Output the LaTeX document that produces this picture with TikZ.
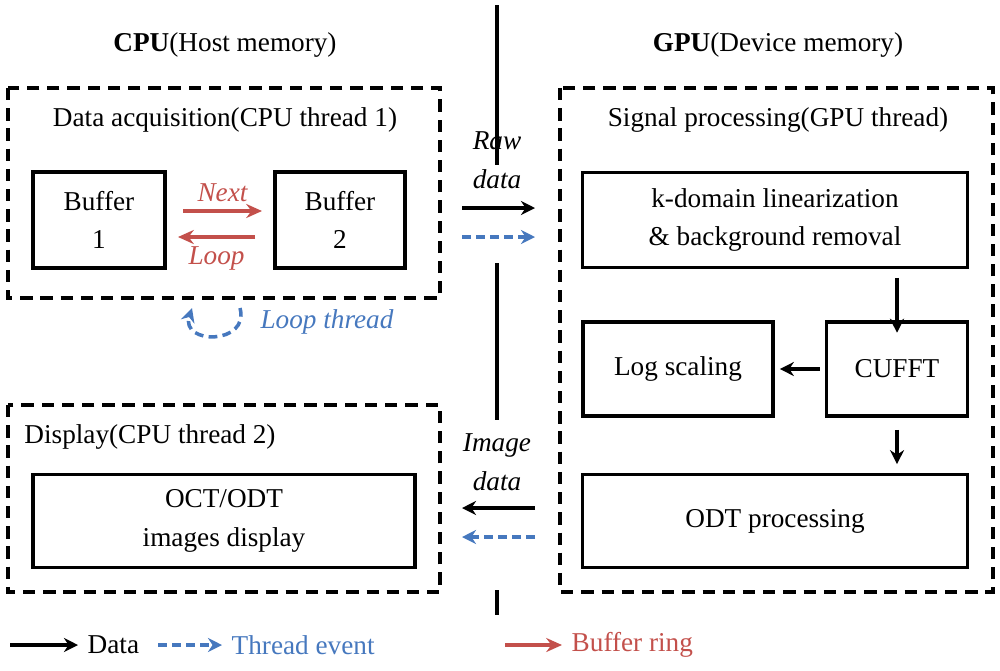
\documentclass[tikz,border=0pt]{standalone}
\usepackage{fontspec}
\setmainfont{Liberation Serif}
\usetikzlibrary{positioning,arrows.meta}
\definecolor{evblue}{RGB}{70,120,190}
\definecolor{ringred}{RGB}{195,80,75}
\tikzset{
  box/.style={draw, line width=1.8pt, align=center, inner sep=0pt},
  group/.style={draw, line width=1.8pt, dash pattern=on 7pt off 4.5pt},
  data/.style={-{Stealth[length=8pt,width=8pt]}, line width=2.2pt},
  event/.style={-{Stealth[length=8pt,width=8pt]}, line width=2pt, evblue, dash pattern=on 5pt off 3pt},
  ring/.style={-{Stealth[length=9pt,width=8pt,inset=3pt]}, line width=2.2pt, ringred},
  lbl/.style={font=\fontsize{15.5}{22}\selectfont, align=center}
}
\begin{document}
\begin{tikzpicture}[x=0.02cm, y=-0.02cm, lbl]
\useasboundingbox (0,0) rectangle (1000,670);

% separator
\draw[line width=1.8pt] (497,5) -- (497,165) (497,263) -- (497,420) (497,590) -- (497,615);

% titles
\node (cpu) at (225,45) {\textbf{CPU}(Host memory)};
\node (gpu) at (778,45) {\textbf{GPU}(Device memory)};

% CPU thread 1
\draw[group] (8,88) rectangle (440,298);
\node (acq) at (225,120) {Data acquisition(CPU thread 1)};
\node[box, minimum width=2.64cm, minimum height=1.92cm] (buf1) at (99,220) {Buffer\\1};
\node[box, minimum width=2.6cm, minimum height=1.92cm] (buf2) at (340,220) {Buffer\\2};
\coordinate (n1) at (183,211); \coordinate (n2) at (262,211);
\coordinate (l1) at (255,237); \coordinate (l2) at (178,237);
\draw[ring] (n1) -- node[above=1pt, ringred] {\itshape Next} (n2);
\draw[ring] (l1) -- node[below=1pt, ringred] {\itshape Loop} (l2);
\coordinate (lt1) at (240,308); \coordinate (lt2) at (192,308);
\draw[event] (lt1) .. controls (250,345) and (180,345) .. (lt2);
\node[evblue] (lthr) at (327,322) {\itshape Loop thread};

% GPU thread
\draw[group] (560,88) rectangle (993,592);
\node (sig) at (778,120) {Signal processing(GPU thread)};
\node[box, minimum width=7.7cm, minimum height=1.9cm] (kdom) at (775,220) {k-domain linearization\\\& background removal};
\node[box, minimum width=2.82cm, minimum height=1.88cm] (cufft) at (897,369) {CUFFT};
\node[box, minimum width=3.8cm, minimum height=1.88cm] (logs) at (678,369) {Log scaling};
\node[box, minimum width=7.7cm, minimum height=1.86cm] (odt) at (775,521) {ODT processing};
\draw[data] (kdom.south -| cufft) ++(0,-5pt) -- ([yshift=-7pt]cufft.north);
\draw[data] ([xshift=-3pt]cufft.west) -- ([xshift=3pt]logs.east);
\draw[data] ([yshift=-7pt]cufft.south) -- ([yshift=5pt]odt.north -| cufft);

% transfers
\node (raw) at (497,160) {\itshape Raw\\\itshape data};
\coordinate (r1) at (462,208); \coordinate (r2) at (535,208);
\coordinate (r3) at (462,237); \coordinate (r4) at (535,237);
\draw[data] (r1) -- (r2);
\draw[event] (r3) -- (r4);
\node (img) at (497,462) {\itshape Image\\\itshape data};
\coordinate (i1) at (535,508); \coordinate (i2) at (462,508);
\coordinate (i3) at (535,537); \coordinate (i4) at (462,537);
\draw[data] (i1) -- (i2);
\draw[event] (i3) -- (i4);

% CPU thread 2
\draw[group] (8,405) rectangle (440,592);
\node (disp) at (150,437) {Display(CPU thread 2)};
\node[box, minimum width=7.64cm, minimum height=1.86cm] (show) at (224,521) {OCT/ODT\\images display};

% legend
\coordinate (a1) at (10,645); \coordinate (a2) at (78,645);
\coordinate (b1) at (158,645); \coordinate (b2) at (222,645);
\coordinate (c1) at (505,645); \coordinate (c2) at (562,645);
\draw[data] (a1) -- (a2);
\node[right=2pt of a2] (ldata) {Data};
\draw[event] (b1) -- (b2);
\node[right=2pt of b2, evblue] (lev) {Thread event};
\draw[ring] (c1) -- (c2);
\node[right=2pt of c2, ringred] (lring) {Buffer ring};
\end{tikzpicture}
\end{document}
